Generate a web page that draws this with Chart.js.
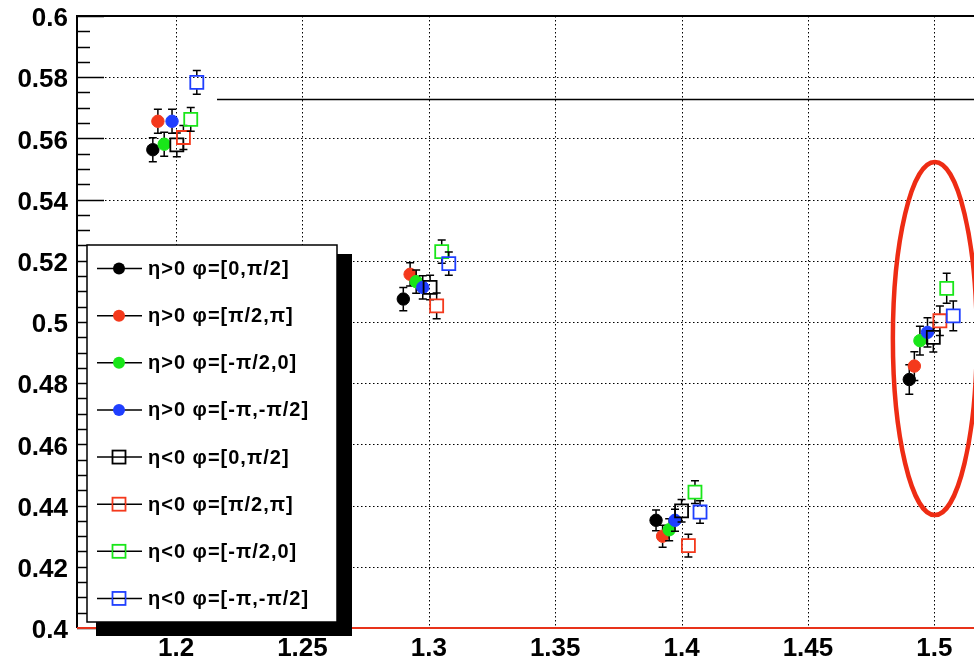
<!DOCTYPE html>
<html>
<head>
<meta charset="utf-8">
<script src="https://cdn.jsdelivr.net/npm/chart.js@4.4.1/dist/chart.umd.min.js"></script>
<style>
  html, body { margin: 0; padding: 0; background: #fff; }
  canvas { display: block; }
</style>
</head>
<body>
<canvas id="chart" width="974" height="662"></canvas>
<script>
// axis ticks
const xTicks = [1.2, 1.25, 1.3, 1.35, 1.4, 1.45, 1.5];
const xTickLabels = ['1.2', '1.25', '1.3', '1.35', '1.4', '1.45', '1.5'];
const yTicks = [0.4, 0.42, 0.44, 0.46, 0.48, 0.5, 0.52, 0.54, 0.56, 0.58, 0.6];
const yTickLabels = ['0.4', '0.42', '0.44', '0.46', '0.48', '0.5', '0.52', '0.54', '0.56', '0.58', '0.6'];

// legend labels
const seriesLabels = [
    'η>0 φ=[0,π/2]', 'η>0 φ=[π/2,π]', 'η>0 φ=[-π/2,0]', 'η>0 φ=[-π,-π/2]',
    'η<0 φ=[0,π/2]', 'η<0 φ=[π/2,π]', 'η<0 φ=[-π/2,0]', 'η<0 φ=[-π,-π/2]'
];

// eta > 0 (filled circles)
const p1X = [1.1908, 1.2899, 1.3899, 1.4901];
const p1Y = [0.5563, 0.5075, 0.4352, 0.4812];
const p1E = [0.0039, 0.0038, 0.0034, 0.0048];
const p2X = [1.1928, 1.2926, 1.3925, 1.4921];
const p2Y = [0.5656, 0.5156, 0.4300, 0.4856];
const p2E = [0.0039, 0.0038, 0.0036, 0.0047];
const p3X = [1.1953, 1.2950, 1.3951, 1.4943];
const p3Y = [0.5581, 0.5132, 0.4321, 0.4939];
const p3E = [0.0039, 0.0038, 0.0036, 0.0047];
const p4X = [1.1984, 1.2976, 1.3974, 1.4973];
const p4Y = [0.5656, 0.5113, 0.4352, 0.4966];
const p4E = [0.0039, 0.0038, 0.0036, 0.0048];

// eta < 0 (open squares)
const n1X = [1.2003, 1.3005, 1.4000, 1.4996];
const n1Y = [0.5579, 0.5113, 0.4383, 0.4950];
const n1E = [0.0039, 0.0040, 0.0037, 0.0048];
const n2X = [1.2029, 1.3031, 1.4027, 1.5022];
const n2Y = [0.5603, 0.5053, 0.4269, 0.5004];
const n2E = [0.0039, 0.0042, 0.0037, 0.0048];
const n3X = [1.2058, 1.3051, 1.4053, 1.5049];
const n3Y = [0.5662, 0.5230, 0.4444, 0.5110];
const n3E = [0.0039, 0.0038, 0.0037, 0.0049];
const n4X = [1.2082, 1.3079, 1.4073, 1.5075];
const n4Y = [0.5783, 0.5191, 0.4379, 0.5020];
const n4E = [0.0039, 0.0038, 0.0037, 0.0049];

// horizontal reference line
const refX = [1.2162, 1.5157];
const refY = [0.5727, 0.5727];

// highlight ellipse (centre and half-axes in data units)
const ellipseX = 1.5002, ellipseY = 0.4946, ellipseRX = 0.0166, ellipseRY = 0.0577;

const FONT = "'Liberation Sans', Arial, Helvetica, sans-serif";
const RED = '#f4391c', GREEN = '#19e619', BLUE = '#1f3fff', BLACK = '#000000';

const seriesX = [p1X, p2X, p3X, p4X, n1X, n2X, n3X, n4X];
const seriesY = [p1Y, p2Y, p3Y, p4Y, n1Y, n2Y, n3Y, n4Y];
const seriesE = [p1E, p2E, p3E, p4E, n1E, n2E, n3E, n4E];
const colors = [BLACK, RED, GREEN, BLUE, BLACK, RED, GREEN, BLUE];

const datasets = seriesX.map((xs, i) => {
    const open = i >= 4;
    return {
        label: seriesLabels[i],
        data: xs.map((x, k) => ({ x: x, y: seriesY[i][k] })),
        errors: seriesE[i],
        order: -i,
        pointStyle: open ? 'rect' : 'circle',
        pointRadius: open ? 9.2 : 6.2,
        backgroundColor: open ? 'rgba(0,0,0,0)' : colors[i],
        borderColor: colors[i],
        borderWidth: open ? 1.8 : 1,
        showLine: false,
        markerHalf: open ? 6.5 : 6.2
    };
});

datasets.push({
    label: 'ref',
    data: refX.map((x, k) => ({ x: x, y: refY[k] })),
    showLine: true,
    pointRadius: 0,
    borderColor: BLACK,
    borderWidth: 1.5,
    order: 20,
    isRef: true
});

// grid, frame and minor ticks
const framePlugin = {
    id: 'frame',
    beforeDatasetsDraw(chart) {
        const { ctx, chartArea: a, scales: { x, y } } = chart;
        ctx.save();
        ctx.strokeStyle = '#000';
        ctx.lineWidth = 1;
        ctx.setLineDash([1.5, 2.5]);
        xTicks.forEach(v => {
            const px = Math.round(x.getPixelForValue(v)) + 0.5;
            ctx.beginPath(); ctx.moveTo(px, a.top); ctx.lineTo(px, a.bottom); ctx.stroke();
        });
        yTicks.forEach(v => {
            const py = Math.round(y.getPixelForValue(v)) + 0.5;
            ctx.beginPath(); ctx.moveTo(a.left, py); ctx.lineTo(a.right, py); ctx.stroke();
        });
        ctx.setLineDash([]);
        ctx.lineWidth = 1.5;
        // y ticks every 0.005
        for (let k = 0; k <= 40; k++) {
            const v = 0.4 + k * 0.005;
            const py = Math.round(y.getPixelForValue(v)) + 0.5;
            const len = k % 4 === 0 ? 27 : 13;
            ctx.beginPath(); ctx.moveTo(a.left, py); ctx.lineTo(a.left + len, py); ctx.stroke();
        }
        // x ticks every 0.01
        for (let k = 17; k <= 51; k++) {
            const v = k / 100;
            const px = Math.round(x.getPixelForValue(v)) + 0.5;
            const len = k % 5 === 0 ? 20 : 9;
            ctx.beginPath(); ctx.moveTo(px, a.bottom); ctx.lineTo(px, a.bottom - len); ctx.stroke();
        }
        ctx.lineWidth = 2;
        ctx.beginPath();
        ctx.moveTo(a.left, a.bottom); ctx.lineTo(a.left, a.top); ctx.lineTo(a.right, a.top);
        ctx.stroke();
        ctx.strokeStyle = '#e8321a';
        ctx.beginPath(); ctx.moveTo(a.left, a.bottom); ctx.lineTo(a.right, a.bottom); ctx.stroke();
        ctx.restore();
    },
    beforeDatasetDraw(chart, args) {
        const ds = chart.data.datasets[args.index];
        if (!ds.errors) return;
        const { ctx, scales: { x, y } } = chart;
        ctx.save();
        ctx.strokeStyle = '#000';
        ctx.lineWidth = 1.5;
        ds.data.forEach((p, k) => {
            const e = ds.errors[k];
            const px = x.getPixelForValue(p.x);
            const py = y.getPixelForValue(p.y);
            const top = y.getPixelForValue(p.y + e);
            const bot = y.getPixelForValue(p.y - e);
            const h = ds.markerHalf;
            ctx.beginPath();
            ctx.moveTo(px, py - h); ctx.lineTo(px, top);
            ctx.moveTo(px, py + h); ctx.lineTo(px, bot);
            ctx.moveTo(px - 4, top); ctx.lineTo(px + 4, top);
            ctx.moveTo(px - 4, bot); ctx.lineTo(px + 4, bot);
            ctx.stroke();
        });
        ctx.restore();
    },
    afterDatasetsDraw(chart) {
        const { ctx, scales: { x, y } } = chart;
        const cx = x.getPixelForValue(ellipseX);
        const cy = y.getPixelForValue(ellipseY);
        const rx = Math.abs(x.getPixelForValue(ellipseX + ellipseRX) - cx);
        const ry = Math.abs(y.getPixelForValue(ellipseY + ellipseRY) - cy);
        ctx.save();
        ctx.strokeStyle = '#ee2c14';
        ctx.lineWidth = 4.5;
        ctx.beginPath();
        ctx.ellipse(cx, cy, rx, ry, 0, 0, Math.PI * 2);
        ctx.stroke();
        ctx.restore();
    }
};

// ROOT style legend with drop shadow
const legendPlugin = {
    id: 'rootLegend',
    afterDraw(chart) {
        const ctx = chart.ctx;
        const L = 87, T = 245, R = 337, B = 622;
        ctx.save();
        ctx.fillStyle = '#000';
        ctx.fillRect(L + 9, T + 9, R - L + 6, B - T + 7 - 2);
        ctx.fillStyle = '#fff';
        ctx.fillRect(L, T, R - L, B - T);
        ctx.strokeStyle = '#000';
        ctx.lineWidth = 1.5;
        ctx.strokeRect(L, T, R - L, B - T);

        const entries = chart.data.datasets.filter(d => !d.isRef);
        const rowH = (B - T) / entries.length;
        ctx.font = 'bold 20px ' + FONT;
        ctx.letterSpacing = '1px';
        ctx.textBaseline = 'middle';
        entries.forEach((ds, i) => {
            const ry = T + rowH * (i + 0.5);
            ctx.strokeStyle = '#000';
            ctx.lineWidth = 1.5;
            ctx.beginPath(); ctx.moveTo(97, ry); ctx.lineTo(142, ry); ctx.stroke();
            if (ds.pointStyle === 'circle') {
                ctx.fillStyle = ds.borderColor;
                ctx.beginPath(); ctx.arc(119, ry, 6, 0, Math.PI * 2); ctx.fill();
            } else {
                ctx.fillStyle = '#fff';
                ctx.fillRect(112.5, ry - 6.5, 13, 13);
                ctx.strokeStyle = ds.borderColor;
                ctx.lineWidth = 1.8;
                ctx.strokeRect(112.5, ry - 6.5, 13, 13);
                ctx.strokeStyle = '#000';
                ctx.lineWidth = 1.5;
                ctx.beginPath(); ctx.moveTo(113, ry); ctx.lineTo(125, ry); ctx.stroke();
            }
            ctx.fillStyle = '#000';
            ctx.fillText(ds.label, 148, ry + 1);
        });
        ctx.restore();
    }
};

new Chart(document.getElementById('chart'), {
    type: 'scatter',
    data: { datasets: datasets },
    options: {
        responsive: false,
        animation: false,
        devicePixelRatio: 1,
        events: [],
        layout: { autoPadding: false, padding: { left: 0, right: 0, top: 16, bottom: 0 } },
        plugins: { legend: { display: false }, tooltip: { enabled: false } },
        scales: {
            x: {
                type: 'linear',
                min: 1.1608,
                max: 1.5157,
                afterBuildTicks: s => { s.ticks = xTicks.map(v => ({ value: v })); },
                afterFit: s => { s.height = 34; s.paddingLeft = 0; s.paddingRight = 0; },
                grid: { display: false, drawTicks: false },
                border: { display: false },
                ticks: {
                    autoSkip: false, maxRotation: 0, padding: 5,
                    color: '#000',
                    font: { family: FONT, size: 26, weight: 'bold' },
                    callback: (v, i) => xTickLabels[i]
                }
            },
            y: {
                type: 'linear',
                min: 0.4,
                max: 0.6,
                afterBuildTicks: s => { s.ticks = yTicks.map(v => ({ value: v })); },
                afterFit: s => { s.width = 77; s.paddingTop = 0; s.paddingBottom = 0; },
                grid: { display: false, drawTicks: false },
                border: { display: false },
                ticks: {
                    autoSkip: false, padding: 9, labelOffset: 3,
                    color: '#000',
                    font: { family: FONT, size: 26, weight: 'bold' },
                    callback: (v, i) => yTickLabels[i]
                }
            }
        }
    },
    plugins: [framePlugin, legendPlugin]
});
</script>
</body>
</html>
